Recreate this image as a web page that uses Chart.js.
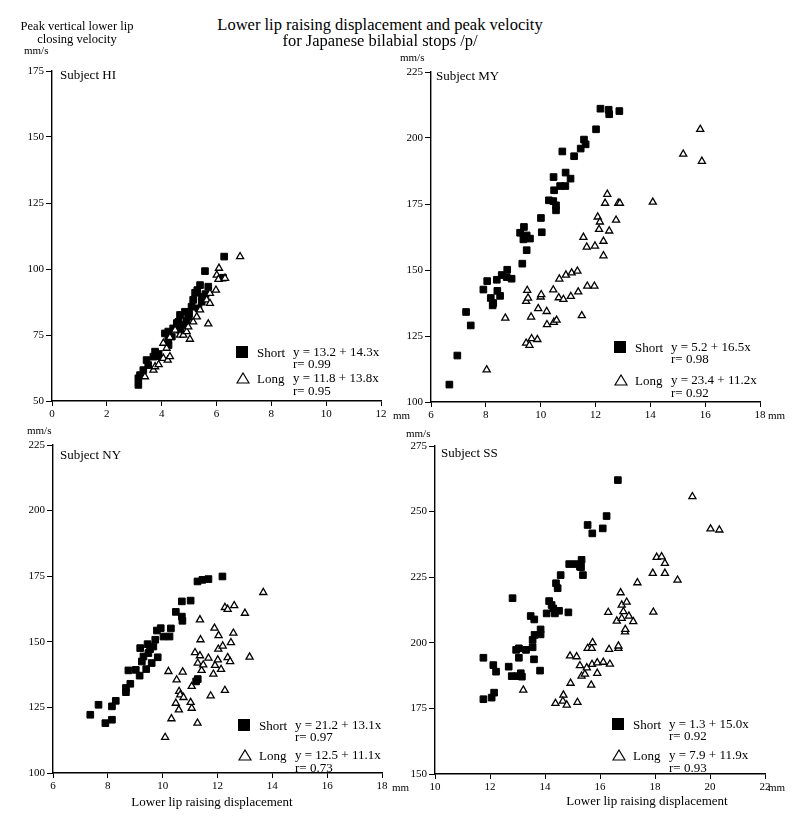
<!DOCTYPE html>
<html>
<head>
<meta charset="utf-8">
<script src="https://cdn.jsdelivr.net/npm/chart.js@4.4.1/dist/chart.umd.min.js"></script>
<style>
  body { margin: 0; background: #fff; }
  #page { position: relative; width: 800px; height: 822px; overflow: hidden; font-family: 'Liberation Serif', 'Times New Roman', serif; color: #000; }
  canvas { position: absolute; }
  .t { position: absolute; white-space: nowrap; }
</style>
</head>
<body>
<div id="page">
  <canvas id="cHI" width="400" height="380" style="left:0px;top:45px"></canvas>
  <canvas id="cMY" width="400" height="380" style="left:400px;top:45px"></canvas>
  <canvas id="cNY" width="400" height="380" style="left:0px;top:425px"></canvas>
  <canvas id="cSS" width="400" height="380" style="left:400px;top:425px"></canvas>
</div>
<script>
// data: [displacement mm, peak velocity mm/s]
const hiShort = [[3.15,56.1],[3.15,58.6],[3.21,59.8],[3.33,61.7],[3.45,65.5],[3.51,63.6],[3.70,66.8],[3.76,68.7],[3.82,67.0],[3.89,67.8],
  [4.12,75.6],[4.24,73.1],[4.24,76.3],[4.37,74.4],[4.25,71.2],[4.42,77.5],[4.61,80.0],[4.67,76.9],[4.67,82.6],[4.79,78.8],
  [4.85,83.8],[4.97,81.9],[5.09,85.7],[5.15,88.3],[5.22,91.0],[5.34,85.1],[5.40,93.9],[5.46,89.5],[5.46,87.6],[5.58,99.2],
  [5.70,93.3],[6.24,96.7],[6.28,104.7],[4.55,79.5],[4.90,80.5],[5.00,83.0],[5.60,90.5],[5.30,92.0]];
const hiLong = [[3.39,59.2],[3.70,61.7],[3.76,63.0],[3.89,63.8],[4.06,66.2],[4.22,65.5],[4.30,66.8],[4.18,70.0],[4.06,71.9],[4.30,74.1],
  [4.49,76.9],[4.67,75.0],[4.79,75.0],[4.91,76.3],[4.97,78.1],[5.03,73.4],[5.15,80.0],[5.28,81.9],[5.40,84.5],[5.64,88.3],
  [5.76,87.0],[5.76,90.8],[5.98,92.0],[5.70,79.2],[6.01,97.7],[6.07,96.1],[6.09,100.3],[6.31,96.5],[6.86,104.7]];

const myShort = [[6.67,106.6],[6.96,117.6],[7.28,134.1],[7.45,129.0],[7.91,142.6],[8.05,145.8],[8.18,139.4],[8.25,136.6],[8.27,137.5],[8.40,146.3],
  [8.42,142.1],[8.52,140.2],[8.58,148.1],[8.78,150.1],[8.76,147.3],[8.94,146.7],[9.33,152.4],[9.25,164.1],[9.39,166.3],[9.37,161.6],
  [9.49,163.1],[9.61,161.9],[9.49,157.5],[10.01,169.7],[10.04,164.3],[10.30,176.4],[10.46,176.1],[10.56,174.5],[10.56,172.6],[10.47,185.2],
  [10.49,180.2],[10.71,181.8],[10.90,181.8],[10.79,194.9],[10.91,186.9],[11.09,184.6],[11.22,193.1],[11.46,196.0],[11.58,199.4],[11.64,197.6],
  [12.02,203.3],[12.18,211.1],[12.48,210.7],[12.50,209.0],[12.87,210.2]];
const myLong = [[8.03,112.2],[8.71,131.8],[9.47,122.3],[9.59,121.5],[9.67,124.0],[9.88,123.7],[9.65,132.2],[9.47,138.1],[9.51,142.3],[9.54,139.4],
  [9.91,135.4],[10.00,139.8],[10.02,140.7],[10.22,134.3],[10.23,129.3],[10.46,142.5],[10.48,130.2],[10.58,131.0],[10.66,139.5],[10.68,146.6],
  [10.83,138.9],[10.92,148.1],[11.10,140.0],[11.13,148.9],[11.34,149.6],[11.37,141.7],[11.50,132.7],[11.56,162.4],[11.68,158.7],[11.70,143.9],
  [11.96,143.9],[11.98,159.1],[12.08,170.1],[12.13,165.4],[12.16,168.2],[12.29,160.9],[12.29,155.4],[12.35,175.3],[12.43,178.7],[12.50,164.8],
  [12.75,168.9],[12.83,175.3],[12.89,175.3],[14.09,175.7],[15.20,193.9],[15.82,203.3],[15.88,191.2]];

const nyShort = [[7.36,122.2],[7.66,126.0],[7.91,119.0],[8.15,120.3],[8.15,125.4],[8.29,127.5],[8.66,132.4],[8.66,130.8],[8.82,134.0],[8.75,139.1],
  [9.02,139.3],[9.16,137.1],[9.18,147.6],[9.24,142.5],[9.30,144.4],[9.40,139.6],[9.48,145.7],[9.45,149.1],[9.54,147.2],[9.60,141.9],
  [9.66,148.2],[9.73,150.8],[9.79,154.3],[9.82,144.1],[9.93,155.2],[10.03,152.0],[10.25,152.0],[10.30,155.1],[10.48,161.4],[10.70,159.6],
  [10.72,158.0],[10.70,165.4],[11.02,165.7],[11.27,173.0],[11.45,173.6],[11.67,173.9],[12.18,174.9],[11.28,135.8],[11.22,134.9]];
const nyLong = [[10.09,113.6],[10.32,120.7],[10.21,138.7],[10.48,126.6],[10.51,135.5],[10.59,124.1],[10.60,131.1],[10.64,129.8],[10.73,138.5],[10.76,128.8],
  [11.06,124.7],[11.02,126.9],[11.06,133.0],[11.18,145.9],[11.27,119.0],[11.28,141.9],[11.36,158.4],[11.38,150.8],[11.36,144.7],[11.42,139.1],
  [11.48,141.2],[11.67,143.8],[11.75,129.4],[11.85,137.7],[11.89,155.2],[11.91,141.0],[12.01,143.1],[12.03,147.2],[12.04,152.4],[12.13,139.5],
  [12.19,148.4],[12.27,131.5],[12.27,163.1],[12.37,162.4],[12.37,144.0],[12.46,142.5],[12.49,149.7],[12.58,153.3],[12.61,163.8],[13.00,160.9],
  [13.17,144.2],[13.67,168.8]];

const ssShort = [[11.76,178.5],[11.76,194.3],[12.06,179.1],[12.15,181.0],[12.12,191.5],[12.22,189.0],[12.68,190.9],[12.82,217.0],[12.79,187.3],[12.95,197.3],
  [13.05,194.3],[13.05,197.9],[12.99,187.3],[13.12,188.4],[13.16,187.1],[13.31,197.3],[13.48,210.2],[13.55,201.1],[13.55,198.3],[13.61,208.9],
  [13.60,193.7],[13.62,203.0],[13.82,189.4],[13.84,205.1],[13.84,203.2],[14.06,211.2],[14.15,215.9],[14.24,214.4],[14.30,213.1],[14.36,211.2],
  [14.40,222.7],[14.46,220.8],[14.51,212.2],[14.57,225.8],[14.85,211.6],[14.88,230.0],[15.12,230.0],[15.27,229.0],[15.33,231.6],[15.31,228.8],
  [15.38,225.8],[15.55,244.9],[15.72,241.7],[16.10,243.6],[16.24,248.3],[16.65,262.0]];
const ssLong = [[13.21,182.0],[14.38,176.9],[14.67,180.1],[14.65,177.8],[14.79,176.3],[14.91,195.0],[14.93,184.6],[15.15,194.7],[15.18,177.3],[15.27,191.3],
  [15.33,187.3],[15.45,188.1],[15.52,190.5],[15.55,197.9],[15.68,183.9],[15.70,197.9],[15.71,191.8],[15.73,200.1],[15.90,188.4],[15.90,192.4],
  [16.12,192.6],[16.30,211.6],[16.33,197.5],[16.36,191.9],[16.61,208.3],[16.67,197.9],[16.67,198.8],[16.75,219.1],[16.79,214.4],[16.79,209.3],
  [16.85,211.9],[16.91,204.2],[16.92,205.1],[16.97,215.5],[17.05,210.2],[17.21,208.1],[17.36,222.9],[17.92,226.5],[17.94,211.7],[18.06,232.6],
  [18.24,232.8],[18.36,230.3],[18.36,226.5],[18.82,223.9],[19.36,255.7],[20.02,243.4],[20.34,243.0]];

// axis ranges [min, max, step]
const hiX = [0, 12, 2],  hiY = [50, 175, 25];
const myX = [6, 18, 2],  myY = [100, 225, 25];
const nyX = [6, 18, 2],  nyY = [100, 225, 25];
const ssX = [10, 22, 2], ssY = [150, 275, 25];

const FONT = "'Liberation Serif', 'Times New Roman', serif";
const page = document.getElementById('page');

const toXY = (pts) => pts.map(p => ({ x: p[0], y: p[1] }));

// canvas box {l,t,w,h} and wanted plot area {l,r,t,b} in page pixels
const makeChart = (id, box, area, xr, yr, shortPts, longPts) => {
  const xAxisH = 22;
  const yAxisW = area.l - box.l;
  const ctx = document.getElementById(id).getContext('2d');
  const tickFont = { family: FONT, size: 11 };
  return new Chart(ctx, {
    type: 'scatter',
    data: {
      datasets: [
        {
          label: 'Long',
          data: toXY(longPts),
          pointStyle: 'triangle',
          pointRadius: 4.1,
          backgroundColor: '#fff',
          borderColor: '#000',
          borderWidth: 1.3,
        },
        {
          label: 'Short',
          data: toXY(shortPts),
          pointStyle: 'rect',
          pointRadius: 4.7,
          backgroundColor: '#000',
          borderColor: '#000',
          borderWidth: 1,
        },
      ],
    },
    options: {
      responsive: false,
      animation: false,
      events: [],
      layout: {
        padding: {
          left: 0,
          right: box.l + box.w - area.r,
          top: area.t - box.t,
          bottom: box.t + box.h - area.b - xAxisH,
        },
      },
      plugins: { legend: { display: false }, tooltip: { enabled: false } },
      scales: {
        x: {
          type: 'linear',
          min: xr[0], max: xr[1],
          afterFit: (s) => { s.height = xAxisH; },
          grid: { drawOnChartArea: false, drawTicks: true, tickLength: 5, color: '#000', lineWidth: 1 },
          border: { display: true, color: '#000', width: 1.4 },
          ticks: { stepSize: xr[2], color: '#000', font: tickFont, padding: 2, maxRotation: 0, autoSkip: false },
        },
        y: {
          type: 'linear',
          min: yr[0], max: yr[1],
          afterFit: (s) => { s.width = yAxisW; },
          grid: { drawOnChartArea: false, drawTicks: true, tickLength: 6, color: '#000', lineWidth: 1 },
          border: { display: true, color: '#000', width: 1.4 },
          ticks: { stepSize: yr[2], color: '#000', font: tickFont, padding: 2, autoSkip: false },
        },
      },
    },
  });
};

makeChart('cHI', { l: 0, t: 45, w: 400, h: 380 },   { l: 52, r: 381, t: 71, b: 401 },   hiX, hiY, hiShort, hiLong);
makeChart('cMY', { l: 400, t: 45, w: 400, h: 380 }, { l: 431, r: 760, t: 72, b: 402 },  myX, myY, myShort, myLong);
makeChart('cNY', { l: 0, t: 425, w: 400, h: 380 },  { l: 53, r: 382, t: 445, b: 773 },  nyX, nyY, nyShort, nyLong);
makeChart('cSS', { l: 400, t: 425, w: 400, h: 380 },{ l: 435, r: 765, t: 446, b: 774 }, ssX, ssY, ssShort, ssLong);

// text labels (real DOM text)
const txt = (s, x, cy, size, center) => {
  const d = document.createElement('div');
  d.className = 't';
  d.textContent = s;
  d.style.fontSize = size + 'px';
  d.style.lineHeight = size + 'px';
  d.style.left = x + 'px';
  d.style.top = (cy - size / 2) + 'px';
  if (center) d.style.transform = 'translateX(-50%)';
  page.appendChild(d);
};

txt('Lower lip raising displacement and peak velocity', 380, 25, 16.5, true);
txt('for Japanese bilabial stops /p/', 380, 41, 16.5, true);
txt('Peak vertical lower lip', 77, 26, 12.5, true);
txt('closing velocity', 77, 39, 12.5, true);

txt('mm/s', 24, 50, 11);
txt('mm/s', 400, 57, 11);
txt('mm/s', 27, 430, 11);
txt('mm/s', 406, 433, 11);

txt('Subject HI', 60, 74, 13);
txt('Subject MY', 436, 75, 13);
txt('Subject NY', 60, 454, 13);
txt('Subject SS', 441, 452, 13);

txt('mm', 393, 415, 11);
txt('mm', 768, 415, 11);
txt('mm', 392, 787, 11);
txt('mm', 768, 787, 11);

txt('Lower lip raising displacement', 212, 801, 13, true);
txt('Lower lip raising displacement', 647, 800, 13, true);

const square = (x, y) => {
  const d = document.createElement('div');
  d.style.cssText = `position:absolute;left:${x}px;top:${y}px;width:12px;height:12px;background:#000;`;
  page.appendChild(d);
};
const triangle = (x, y) => {
  const ns = 'http://www.w3.org/2000/svg';
  const s = document.createElementNS(ns, 'svg');
  s.setAttribute('width', '14');
  s.setAttribute('height', '12');
  s.style.cssText = `position:absolute;left:${x}px;top:${y}px;`;
  const p = document.createElementNS(ns, 'polygon');
  p.setAttribute('points', '7,1 13,11 1,11');
  p.setAttribute('fill', '#fff');
  p.setAttribute('stroke', '#000');
  p.setAttribute('stroke-width', '1.2');
  s.appendChild(p);
  page.appendChild(s);
};

// legend blocks: symbol, label, fit equation, r
const legend = (x0, ys, yl, eqS, rS, eqL, rL) => {
  square(x0, ys - 6);
  txt('Short', x0 + 21, ys, 13);
  txt(eqS, x0 + 57, ys - 1, 13);
  txt(rS, x0 + 57, ys + 11, 13);
  triangle(x0, yl - 6);
  txt('Long', x0 + 21, yl, 13);
  txt(eqL, x0 + 57, yl - 1, 13);
  txt(rL, x0 + 57, yl + 12, 13);
};
legend(236, 352, 378, 'y = 13.2 + 14.3x', 'r= 0.99', 'y = 11.8 + 13.8x', 'r= 0.95');
legend(614, 347, 380, 'y = 5.2 + 16.5x', 'r= 0.98', 'y = 23.4 + 11.2x', 'r= 0.92');
legend(238, 725, 755, 'y = 21.2 + 13.1x', 'r= 0.97', 'y = 12.5 + 11.1x', 'r= 0.73');
legend(612, 724, 755, 'y = 1.3 + 15.0x', 'r= 0.92', 'y = 7.9 + 11.9x', 'r= 0.93');
</script>
</body>
</html>
